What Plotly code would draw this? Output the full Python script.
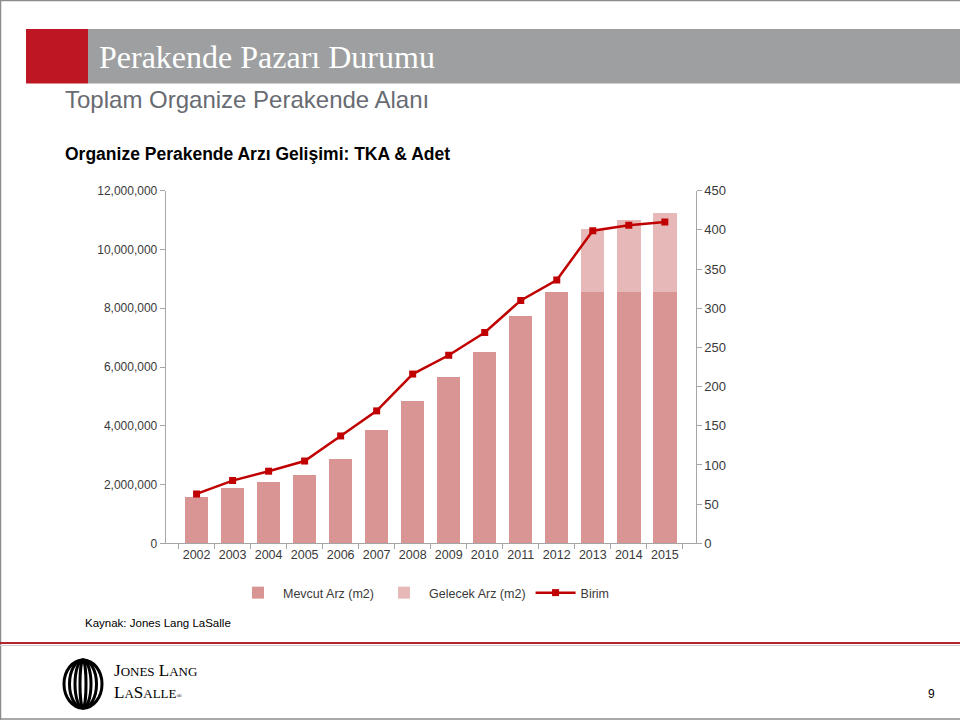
import plotly.graph_objects as go

years = ["2002", "2003", "2004", "2005", "2006", "2007", "2008",
         "2009", "2010", "2011", "2012", "2013", "2014", "2015"]
mevcut = [1570000, 1890000, 2080000, 2320000, 2860000, 3860000, 4850000,
          5670000, 6510000, 7740000, 8550000, 8550000, 8550000, 8550000]
gelecek = [None, None, None, None, None, None, None,
           None, None, None, None, 2140000, 2450000, 2680000]
birim = [63, 80, 92, 105, 137, 169, 216, 240, 269, 310, 336, 399, 406, 410]

left_ticks = [0, 2000000, 4000000, 6000000, 8000000, 10000000, 12000000]
left_labels = ["0", "2,000,000", "4,000,000", "6,000,000", "8,000,000", "10,000,000", "12,000,000"]
right_ticks = [0, 50, 100, 150, 200, 250, 300, 350, 400, 450]

W, H = 960, 720
def py(p):
    return 1 - p / H
def px(p):
    return p / W

NARROW = "Liberation Sans Narrow, Arial Narrow, Liberation Sans, Arial, sans-serif"
TXT = "#3a3a3a"
AX = "#a6a6a6"

fig = go.Figure()
fig.add_trace(go.Bar(x=years, y=mevcut, name="Mevcut Arz (m2)",
                     marker=dict(color="#d99594", line=dict(width=0)), yaxis="y"))
fig.add_trace(go.Bar(x=years, y=gelecek, name="Gelecek Arz (m2)",
                     marker=dict(color="#e6b9b8", line=dict(width=0)), yaxis="y"))
fig.add_trace(go.Scatter(x=years, y=birim, name="Birim", yaxis="y2", mode="lines+markers",
                         line=dict(color="#c00000", width=2.5),
                         marker=dict(symbol="square", size=7, color="#c00000")))

fig.update_layout(
    width=W, height=H,
    margin=dict(l=0, r=0, t=0, b=0, pad=0, autoexpand=False),
    paper_bgcolor="white", plot_bgcolor="white",
    barmode="stack", bargap=0.35,
    font=dict(family=NARROW, color=TXT, size=12),
    xaxis=dict(domain=[px(165.7), px(695.7)], type="category",
               showline=True, linecolor=AX, linewidth=1,
               ticks="outside", tickson="boundaries", ticklen=5, tickcolor=AX,
               showgrid=False, tickangle=0, automargin=False,
               tickfont=dict(size=12.5, family=NARROW, color=TXT)),
    yaxis=dict(domain=[py(543.3), py(190.7)], range=[0, 12000000],
               tickvals=left_ticks, ticktext=left_labels,
               showline=True, linecolor=AX, linewidth=1,
               ticks="outside", ticklen=5, tickcolor=AX,
               showgrid=False, zeroline=False, automargin=False,
               tickfont=dict(size=12, family=NARROW, color=TXT)),
    yaxis2=dict(overlaying="y", side="right", range=[0, 450],
                tickvals=right_ticks,
                showline=True, linecolor=AX, linewidth=1,
                ticks="outside", ticklen=5, tickcolor=AX,
                showgrid=False, zeroline=False, anchor="x", automargin=False,
                tickfont=dict(size=13, family=NARROW, color=TXT)),
    showlegend=True,
    legend=dict(orientation="h", x=px(424), xanchor="center", y=py(593), yanchor="middle",
                font=dict(size=12.5, family=NARROW, color=TXT), itemwidth=40,
                traceorder="normal", bgcolor="rgba(0,0,0,0)"),
)

shapes = []
# page border
shapes.append(dict(type="line", xref="paper", yref="paper", x0=0, x1=1, y0=py(0.5), y1=py(0.5),
                   line=dict(color="#8c8c8c", width=1.5)))
shapes.append(dict(type="line", xref="paper", yref="paper", x0=px(0.5), x1=px(0.5), y0=py(0), y1=py(720),
                   line=dict(color="#8c8c8c", width=1.5)))
shapes.append(dict(type="line", xref="paper", yref="paper", x0=0, x1=1, y0=py(719), y1=py(719),
                   line=dict(color="#8c8c8c", width=1.5)))
# header banner
shapes.append(dict(type="rect", xref="paper", yref="paper", x0=px(88), x1=1, y0=py(83.5), y1=py(29),
                   fillcolor="#9e9fa1", line=dict(width=0), layer="below"))
shapes.append(dict(type="rect", xref="paper", yref="paper", x0=px(26), x1=px(88), y0=py(83.5), y1=py(29),
                   fillcolor="#be1622", line=dict(width=0), layer="below"))
# footer line
shapes.append(dict(type="line", xref="paper", yref="paper", x0=0, x1=1, y0=py(643), y1=py(643),
                   line=dict(color="#b3262e", width=2)))
shapes.append(dict(type="line", xref="paper", yref="paper", x0=0, x1=1, y0=py(645.5), y1=py(645.5),
                   line=dict(color="#d0d0d0", width=1)))
# logo ellipses
cx, cy, ry = 83, 684, 24
for rx in [19, 13.5, 8, 3]:
    shapes.append(dict(type="circle", xref="paper", yref="paper",
                       x0=px(cx - rx), x1=px(cx + rx), y0=py(cy + ry), y1=py(cy - ry),
                       line=dict(color="black", width=3)))
fig.update_layout(shapes=shapes)

ann = []
ann.append(dict(text="Perakende Pazarı Durumu", x=px(97), y=py(57), xref="paper", yref="paper",
                xanchor="left", yanchor="middle", showarrow=False,
                font=dict(family="Liberation Serif, Times New Roman, serif", size=32, color="white")))
ann.append(dict(text="Toplam Organize Perakende Alanı", x=px(63), y=py(100), xref="paper", yref="paper",
                xanchor="left", yanchor="middle", showarrow=False,
                font=dict(family="Liberation Sans, Arial, sans-serif", size=24, color="#686b72")))
ann.append(dict(text="<b>Organize Perakende Arzı Gelişimi: TKA &amp; Adet</b>", x=px(63), y=py(154),
                xref="paper", yref="paper", xanchor="left", yanchor="middle", showarrow=False,
                font=dict(family="Liberation Sans, Arial, sans-serif", size=17.5, color="black")))
ann.append(dict(text="Kaynak: Jones Lang LaSalle", x=px(83), y=py(623), xref="paper", yref="paper",
                xanchor="left", yanchor="middle", showarrow=False,
                font=dict(family=NARROW, size=11.5, color="black")))
ann.append(dict(text="J<span style='font-size:13px'>ONES</span> L<span style='font-size:13px'>ANG</span>",
                x=px(112), y=py(670), xref="paper", yref="paper", xanchor="left", yanchor="middle",
                showarrow=False, font=dict(family="Liberation Serif, Times New Roman, serif", size=17, color="black")))
ann.append(dict(text="L<span style='font-size:13px'>A</span>S<span style='font-size:13px'>ALLE</span><span style='font-size:7px'>®</span>",
                x=px(112), y=py(692), xref="paper", yref="paper", xanchor="left", yanchor="middle",
                showarrow=False, font=dict(family="Liberation Serif, Times New Roman, serif", size=17, color="black")))
ann.append(dict(text="9", x=px(931), y=py(694), xref="paper", yref="paper", xanchor="center", yanchor="middle",
                showarrow=False, font=dict(family=NARROW, size=12, color="black")))
fig.update_layout(annotations=ann)

js = ("var s=document.createElement('style');"
      "s.textContent='html,body{margin:0!important;padding:0!important;overflow:hidden!important;}';"
      "document.head.appendChild(s);")
fig.write_html("out.html", config={"displayModeBar": False}, post_script=js)
